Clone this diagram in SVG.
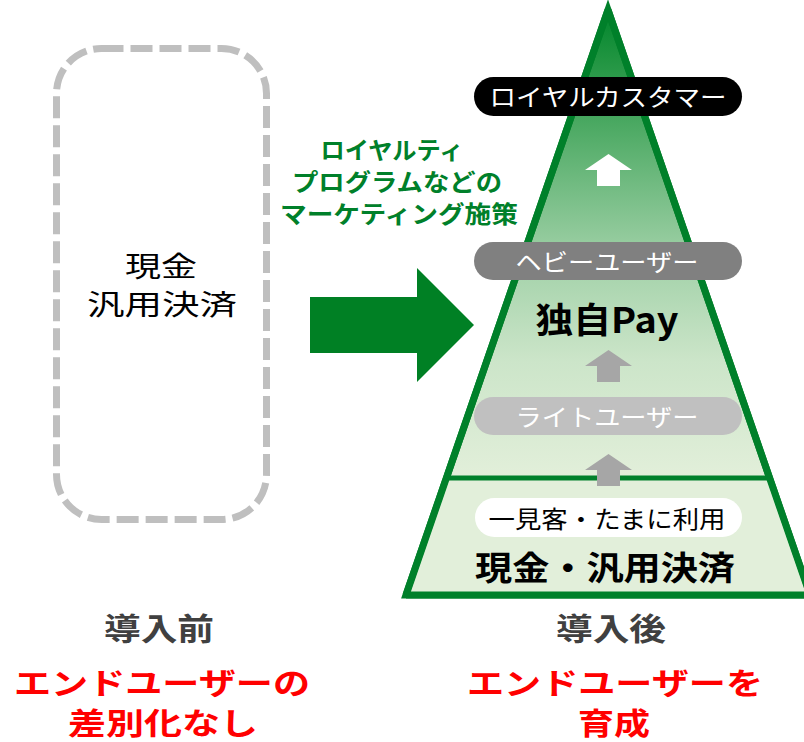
<svg xmlns="http://www.w3.org/2000/svg" width="804" height="742" viewBox="0 0 804 742">
<style>
text{font-family:"Noto Sans CJK JP","Noto Sans",sans-serif;text-anchor:middle}
.pill{font-size:24px}
.b{font-weight:bold}
.red{fill:#ff0000;font-weight:bold;font-size:30px}
.gray{fill:#404040;font-weight:bold;font-size:31px}
.grn{fill:#00802a;font-weight:bold;font-size:24px}
</style>
<defs>
<linearGradient id="g" gradientUnits="userSpaceOnUse" x1="0" y1="10" x2="0" y2="478">
<stop offset="0" stop-color="#00852c"/>
<stop offset="0.1" stop-color="#1f9440"/>
<stop offset="0.3" stop-color="#5cb170"/>
<stop offset="0.55" stop-color="#a5d3ab"/>
<stop offset="0.75" stop-color="#cce5c9"/>
<stop offset="1" stop-color="#e2efda"/>
</linearGradient>
</defs>
<g id="before">
<rect x="56.5" y="48.5" width="210" height="471" rx="45" fill="none" stroke="#bfbfbf" stroke-width="7" stroke-dasharray="22 7"/>
<text x="161" y="277" font-size="28" textLength="72" lengthAdjust="spacingAndGlyphs">現金</text>
<text x="162" y="315" font-size="28" textLength="150" lengthAdjust="spacingAndGlyphs">汎用決済</text>
</g>
<g id="marketing">
<text class="grn" x="392" y="159" textLength="143" lengthAdjust="spacingAndGlyphs">ロイヤルティ</text>
<text class="grn" x="397" y="191" textLength="210" lengthAdjust="spacingAndGlyphs">プログラムなどの</text>
<text class="grn" x="399" y="223" textLength="238" lengthAdjust="spacingAndGlyphs">マーケティング施策</text>
</g>
<g id="connectors">
<polygon points="310,297 417,297 417,268 474,325 417,382 417,353 310,353" fill="#008024"/>
</g>
<g id="pyramid">
<polygon points="608,10 406,595 810,595" fill="url(#g)" stroke="#00802a" stroke-width="7" stroke-linejoin="miter"/>
<polygon points="449.5,478 766.5,478 806,593 410,593" fill="#e2efda"/>
<line x1="449" y1="478" x2="767" y2="478" stroke="#00802a" stroke-width="5"/>
<line x1="406" y1="595" x2="810" y2="595" stroke="#00802a" stroke-width="7"/>
<line x1="608" y1="10" x2="406" y2="595" stroke="#00802a" stroke-width="7"/>
<line x1="608" y1="10" x2="810" y2="595" stroke="#00802a" stroke-width="7"/>
</g>
<g id="arrows">
<path d="M585,170 L608.5,154 L632,170 L620,170 L620,186 L597,186 L597,170 Z" fill="#ffffff"/>
<path d="M585,366 L608.5,350 L632,366 L620,366 L620,382 L597,382 L597,366 Z" fill="#a6a6a6"/>
<path d="M585,470 L608.5,454 L632,470 L620,470 L620,486 L597,486 L597,470 Z" fill="#a6a6a6"/>
</g>
<g id="loyal">
<rect x="474" y="77" width="268" height="39" rx="19.5" fill="#000000"/>
<text class="pill" x="608" y="106" fill="#ffffff" textLength="237" lengthAdjust="spacingAndGlyphs">ロイヤルカスタマー</text>
</g>
<g id="heavy">
<rect x="474" y="242" width="268" height="38" rx="19" fill="#808080"/>
<text class="pill" x="607" y="271" fill="#ffffff" textLength="183" lengthAdjust="spacingAndGlyphs">ヘビーユーザー</text>
</g>
<g id="pay">
<text class="b" x="607" y="333" font-size="35" textLength="143" lengthAdjust="spacingAndGlyphs">独自Pay</text>
</g>
<g id="light">
<rect x="474" y="397" width="268" height="38" rx="19" fill="#c0c0c0"/>
<text class="pill" x="607" y="426" fill="#ffffff" textLength="183" lengthAdjust="spacingAndGlyphs">ライトユーザー</text>
</g>
<g id="casual">
<rect x="475" y="498" width="267" height="39" rx="19.5" fill="#ffffff"/>
<text class="pill" x="607" y="528" fill="#000000" textLength="237" lengthAdjust="spacingAndGlyphs">一見客・たまに利用</text>
</g>
<g id="cash">
<text class="b" x="605" y="580" font-size="33" textLength="260" lengthAdjust="spacingAndGlyphs">現金・汎用決済</text>
</g>
<g id="labels">
<text class="gray" x="159" y="640" textLength="110" lengthAdjust="spacingAndGlyphs">導入前</text>
<text class="gray" x="611" y="640" textLength="110" lengthAdjust="spacingAndGlyphs">導入後</text>
<text class="red" x="162" y="694" textLength="296" lengthAdjust="spacingAndGlyphs">エンドユーザーの</text>
<text class="red" x="163" y="734" textLength="190" lengthAdjust="spacingAndGlyphs">差別化なし</text>
<text class="red" x="615" y="694" textLength="296" lengthAdjust="spacingAndGlyphs">エンドユーザーを</text>
<text class="red" x="614" y="734" textLength="72" lengthAdjust="spacingAndGlyphs">育成</text>
</g>
</svg>
